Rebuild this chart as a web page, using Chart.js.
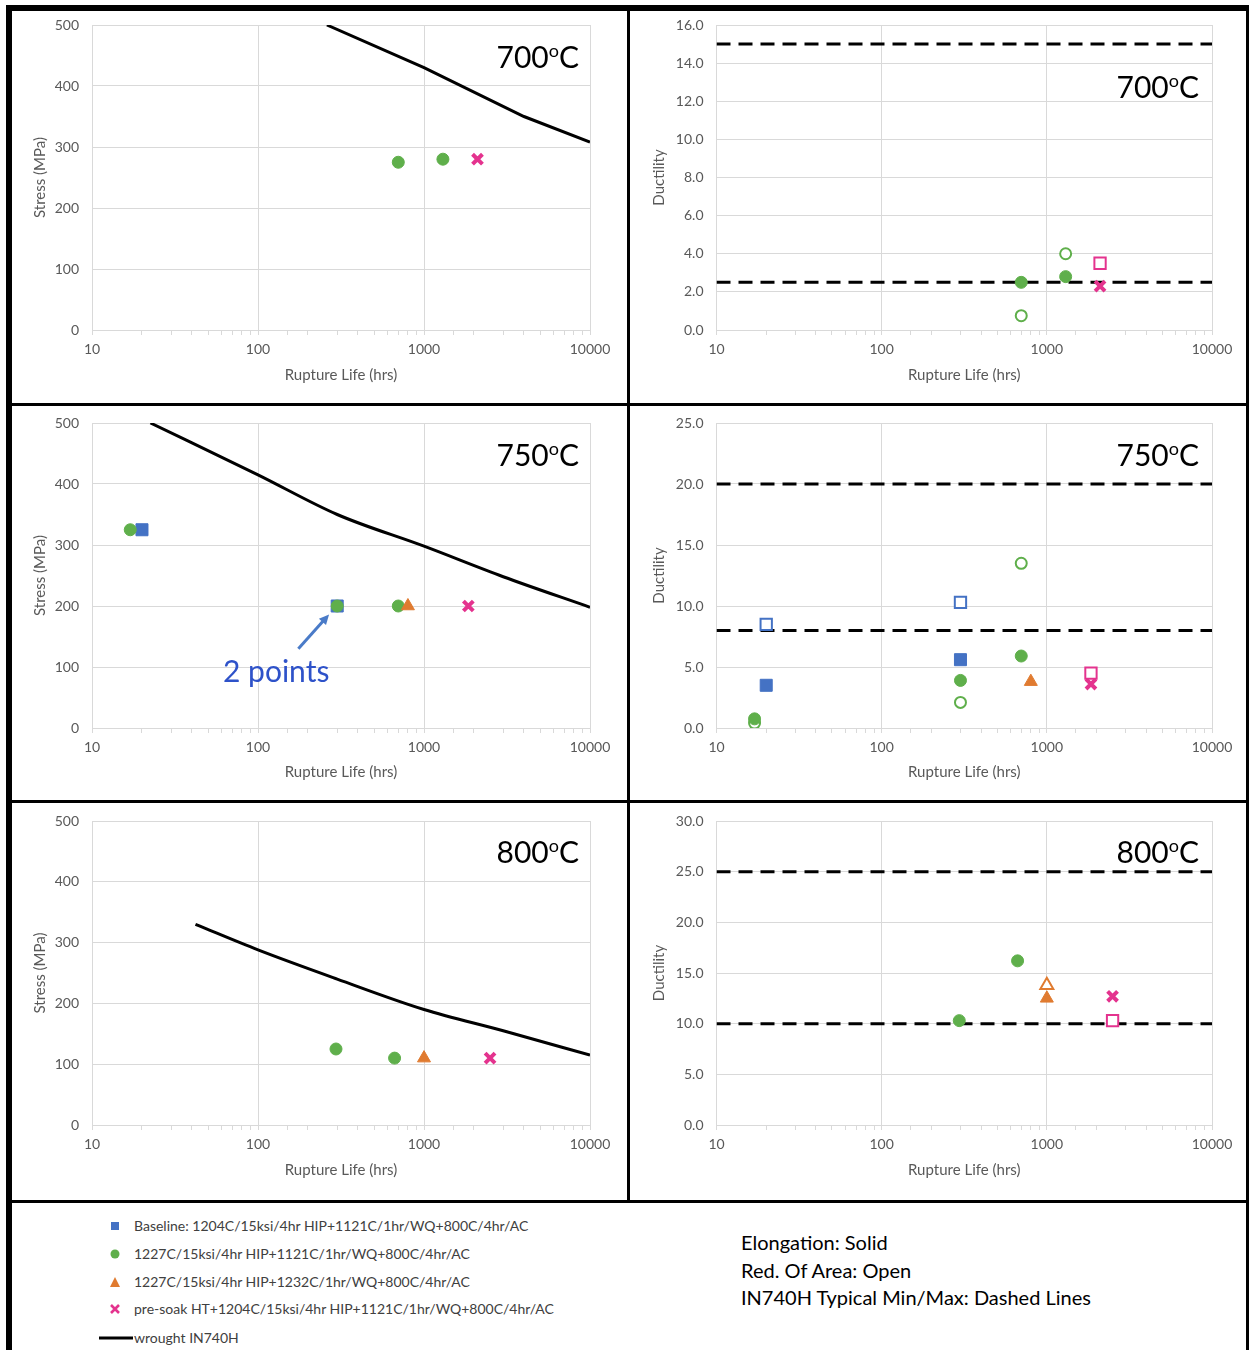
<!DOCTYPE html>
<html>
<head>
<meta charset="utf-8">
<script src="https://cdn.jsdelivr.net/npm/chart.js@4.4.1/dist/chart.umd.min.js"></script>
<style>
  html,body{margin:0;padding:0;background:#fff;}
  body{width:1249px;height:1350px;position:relative;overflow:hidden;font-family:Lato,"Open Sans",sans-serif;}
  .bar{position:absolute;background:#000;}
  .pane{position:absolute;}
  .temp{position:absolute;font-size:30px;line-height:31px;color:#000;text-align:right;width:120px;white-space:nowrap;}
  .temp .deg{font-size:18px;position:relative;top:-11px;}
  .note{position:absolute;font-size:30px;line-height:30px;color:#2E52C9;white-space:nowrap;}
  .leg{position:absolute;font-size:14px;line-height:18px;color:#404040;white-space:nowrap;}
  .legico{position:absolute;}
  .legico svg{display:block;}
  .info{position:absolute;font-size:20px;line-height:22px;color:#000;white-space:nowrap;}
</style>
</head>
<body>
<script>
// ---------------- DATA ----------------
const lifeTicks = [10, 100, 1000, 10000];
const stressTicks = [0, 100, 200, 300, 400, 500];
const ductMax700 = 16, ductStep700 = 2;
const ductMax750 = 25, ductStep750 = 5;
const ductMax800 = 30, ductStep800 = 5;

// 700 C
const life700Green = [700, 1300];
const stress700Green = [275, 280];
const elong700Green = [2.5, 2.8];
const roa700Green = [0.75, 4.0];
const life700Pink = [2100];
const stress700Pink = [280];
const elong700Pink = [2.3];
const roa700Pink = [3.5];
const life700Wrought = [260, 1000, 4000, 10000];
const stress700Wrought = [500, 430, 350, 308];
const typMinMax700 = [2.5, 15];

// 750 C
const life750Blue = [20, 300];
const stress750Blue = [325, 200];
const elong750Blue = [3.5, 5.6];
const roa750Blue = [8.5, 10.3];
const life750Green = [17, 300, 700];
const stress750Green = [325, 200, 200];
const elong750Green = [0.75, 3.9, 5.9];
const roa750Green = [0.4, 2.1, 13.5];
const life750Orange = [800];
const stress750Orange = [200];
const elong750Orange = [3.8];
const life750Pink = [1850];
const stress750Pink = [200];
const elong750Pink = [3.6];
const roa750Pink = [4.5];
const life750Wrought = [22.5, 100, 300, 1000, 3000, 10000];
const stress750Wrought = [500, 415, 350, 298, 248, 198];
const typMinMax750 = [8, 20];

// 800 C
const life800Green = [295, 665];
const stress800Green = [125, 110];
const elong800Green = [10.3, 16.2];
const life800Orange = [1000];
const stress800Orange = [110];
const elong800Orange = [12.5];
const roa800Orange = [13.8];
const life800Pink = [2500];
const stress800Pink = [110];
const elong800Pink = [12.7];
const roa800Pink = [10.3];
const life800Wrought = [42, 100, 300, 1000, 3000, 10000];
const stress800Wrought = [330, 288, 240, 190, 155, 115];
const typMinMax800 = [10, 25];

const legendLabels = [
  'Baseline: 1204C/15ksi/4hr HIP+1121C/1hr/WQ+800C/4hr/AC',
  '1227C/15ksi/4hr HIP+1121C/1hr/WQ+800C/4hr/AC',
  '1227C/15ksi/4hr HIP+1232C/1hr/WQ+800C/4hr/AC',
  'pre-soak HT+1204C/15ksi/4hr HIP+1121C/1hr/WQ+800C/4hr/AC',
  'wrought IN740H'
];
const infoLines = ['Elongation: Solid', 'Red. Of Area: Open', 'IN740H Typical Min/Max: Dashed Lines'];

// ---------------- STYLE ----------------
const BLUE = '#4472C4', GREEN = '#5FAF4B', ORANGE = '#E07B30', PINK = '#E4338E';
const GRID = '#D9D9D9', TXT = '#595959';
const FONT = 'Lato';

function pts(xs, ys) { return xs.map((x, i) => ({x: x, y: ys[i]})); }
function isMajor(v) { const l = Math.log10(v); return Math.abs(l - Math.round(l)) < 1e-9; }
function flat(vs) { return vs.map(v => [{x: lifeTicks[0], y: v}, {x: lifeTicks[lifeTicks.length - 1], y: v}]); }

function marker(color, style, radius, open, order, data) {
  return {
    data: data, pointStyle: style, pointRadius: radius, pointHoverRadius: radius,
    backgroundColor: open ? '#FFFFFF' : color, borderColor: color,
    borderWidth: open ? 2 : (style === 'crossRot' ? 4 : 1),
    showLine: false, order: order
  };
}
function wrought(data, smooth) {
  const d = {data: data, showLine: true, borderColor: '#000', borderWidth: 3, pointRadius: 0, order: 20, tension: 0};
  if (smooth) d.cubicInterpolationMode = 'monotone';
  return d;
}
function dashed(data) {
  return {data: data, showLine: true, borderColor: '#000', borderWidth: 3, borderDash: [14, 8], pointRadius: 0, order: 20};
}

const bars = [
  [6, 5, 1243, 6], [6, 5, 6, 1345], [1246, 5, 3, 1345],
  [12, 403, 1234, 3], [12, 800, 1234, 3], [12, 1200, 1234, 3],
  [627, 11, 3, 1189]
];
bars.forEach(b => {
  const d = document.createElement('div');
  d.className = 'bar';
  d.style.left = b[0] + 'px'; d.style.top = b[1] + 'px'; d.style.width = b[2] + 'px'; d.style.height = b[3] + 'px';
  document.body.appendChild(d);
});

const arrowPlugin = {
  id: 'arrow',
  afterDatasetsDraw(chart, args, opts) {
    if (!opts || !opts.from) return;
    const xs = chart.scales.x, ys = chart.scales.y, ctx = chart.ctx;
    const x0 = xs.getPixelForValue(opts.from[0]), y0 = ys.getPixelForValue(opts.from[1]);
    const x1 = xs.getPixelForValue(opts.to[0]), y1 = ys.getPixelForValue(opts.to[1]);
    const ang = Math.atan2(y1 - y0, x1 - x0), hl = 11;
    ctx.save();
    ctx.strokeStyle = '#4A7BC8'; ctx.fillStyle = '#4A7BC8'; ctx.lineWidth = 3;
    ctx.beginPath(); ctx.moveTo(x0, y0);
    ctx.lineTo(x1 - Math.cos(ang) * hl * 0.8, y1 - Math.sin(ang) * hl * 0.8); ctx.stroke();
    ctx.beginPath(); ctx.moveTo(x1, y1);
    ctx.lineTo(x1 - hl * Math.cos(ang - 0.45), y1 - hl * Math.sin(ang - 0.45));
    ctx.lineTo(x1 - hl * Math.cos(ang + 0.45), y1 - hl * Math.sin(ang + 0.45));
    ctx.closePath(); ctx.fill();
    ctx.restore();
  }
};

function makePanel(p) {
  const wrap = document.createElement('div');
  wrap.className = 'pane';
  wrap.style.left = p.left + 'px'; wrap.style.top = p.top + 'px';
  wrap.style.width = p.w + 'px'; wrap.style.height = p.h + 'px';
  const cv = document.createElement('canvas');
  cv.width = p.w; cv.height = p.h;
  cv.style.width = p.w + 'px'; cv.style.height = p.h + 'px';
  wrap.appendChild(cv);
  document.body.appendChild(wrap);

  new Chart(cv.getContext('2d'), {
    type: 'scatter',
    data: {datasets: p.datasets},
    plugins: [arrowPlugin],
    options: {
      responsive: false, animation: false, devicePixelRatio: 1,
      layout: {padding: {top: p.padTop, right: p.padRight, left: 0, bottom: 0}},
      plugins: {legend: {display: false}, tooltip: {enabled: false}, arrow: p.arrow || {}},
      scales: {
        x: {
          type: 'logarithmic', min: lifeTicks[0], max: lifeTicks[lifeTicks.length - 1], position: 'bottom',
          afterFit(s) { s.height = p.xH; s.paddingLeft = 0; s.paddingRight = 0; },
          grid: {
            color: c => (c.tick && isMajor(c.tick.value)) ? GRID : 'rgba(0,0,0,0)',
            tickColor: GRID, tickLength: 5, drawTicks: true, lineWidth: 1
          },
          border: {color: GRID},
          ticks: {
            autoSkip: false, maxRotation: 0, minRotation: 0, padding: 6, color: TXT,
            font: {family: FONT, size: 14},
            callback: v => isMajor(v) ? String(v) : ''
          },
          title: {display: true, text: 'Rupture Life (hrs)', color: TXT, font: {family: FONT, size: 15}, padding: {top: 0, bottom: p.xTitlePad}}
        },
        y: {
          min: 0, max: p.yMax,
          afterFit(s) { s.width = p.yW; s.paddingTop = 0; s.paddingBottom = 0; },
          grid: {color: GRID, drawTicks: false, lineWidth: 1},
          border: {display: false},
          ticks: {
            stepSize: p.yStep, padding: 13, color: TXT, font: {family: FONT, size: 14},
            callback: v => p.decimals ? Number(v).toFixed(1) : String(v)
          },
          title: {display: true, text: p.yTitle, color: TXT, font: {family: FONT, size: 15}, padding: {top: p.yTitlePad, bottom: 0}}
        }
      }
    }
  });
}

const LEFT = {left: 12, w: 615, yW: 80, padRight: 37, yTitlePad: 19};
const RIGHT = {left: 630, w: 616, yW: 86.5, padRight: 34, yTitlePad: 20};
const ROW1 = {top: 11, h: 392, padTop: 14, xH: 73, xTitlePad: 19};
const ROW2 = {top: 406, h: 394, padTop: 17, xH: 72, xTitlePad: 19};
const ROW3 = {top: 803, h: 397, padTop: 18, xH: 75, xTitlePad: 21};

// 700 stress
makePanel(Object.assign({}, LEFT, ROW1, {
  yMax: stressTicks[stressTicks.length - 1], yStep: stressTicks[1] - stressTicks[0], yTitle: 'Stress (MPa)', decimals: false,
  datasets: [
    marker(GREEN, 'circle', 6, false, 3, pts(life700Green, stress700Green)),
    marker(PINK, 'crossRot', 7, false, 1, pts(life700Pink, stress700Pink)),
    wrought(pts(life700Wrought, stress700Wrought), false)
  ]
}));
// 700 ductility
makePanel(Object.assign({}, RIGHT, ROW1, {
  yMax: ductMax700, yStep: ductStep700, yTitle: 'Ductility', decimals: true,
  datasets: [
    marker(GREEN, 'circle', 6, false, 3, pts(life700Green, elong700Green)),
    marker(GREEN, 'circle', 5.5, true, 3, pts(life700Green, roa700Green)),
    marker(PINK, 'rect', 8, true, 1, pts(life700Pink, roa700Pink)),
    marker(PINK, 'crossRot', 7, false, 1, pts(life700Pink, elong700Pink))
  ].concat(flat(typMinMax700).map(dashed))
}));
// 750 stress
makePanel(Object.assign({}, LEFT, ROW2, {
  yMax: stressTicks[stressTicks.length - 1], yStep: stressTicks[1] - stressTicks[0], yTitle: 'Stress (MPa)', decimals: false,
  arrow: {from: [175, 130], to: [268, 186]},
  datasets: [
    marker(BLUE, 'rect', 8.5, false, 4, pts(life750Blue, stress750Blue)),
    marker(GREEN, 'circle', 6, false, 3, pts(life750Green, stress750Green)),
    marker(ORANGE, 'triangle', 7.5, false, 2, pts(life750Orange, stress750Orange)),
    marker(PINK, 'crossRot', 7, false, 1, pts(life750Pink, stress750Pink)),
    wrought(pts(life750Wrought, stress750Wrought), true)
  ]
}));
// 750 ductility
makePanel(Object.assign({}, RIGHT, ROW2, {
  yMax: ductMax750, yStep: ductStep750, yTitle: 'Ductility', decimals: true,
  datasets: [
    marker(BLUE, 'rect', 8.5, false, 4, pts(life750Blue, elong750Blue)),
    marker(BLUE, 'rect', 8, true, 4, pts(life750Blue, roa750Blue)),
    marker(GREEN, 'circle', 6, false, 3, pts(life750Green, elong750Green)),
    marker(GREEN, 'circle', 5.5, true, 3, pts(life750Green, roa750Green)),
    marker(ORANGE, 'triangle', 7.5, false, 2, pts(life750Orange, elong750Orange)),
    marker(PINK, 'rect', 8, true, 1, pts(life750Pink, roa750Pink)),
    marker(PINK, 'crossRot', 7, false, 1, pts(life750Pink, elong750Pink))
  ].concat(flat(typMinMax750).map(dashed))
}));
// 800 stress
makePanel(Object.assign({}, LEFT, ROW3, {
  yMax: stressTicks[stressTicks.length - 1], yStep: stressTicks[1] - stressTicks[0], yTitle: 'Stress (MPa)', decimals: false,
  datasets: [
    marker(GREEN, 'circle', 6, false, 3, pts(life800Green, stress800Green)),
    marker(ORANGE, 'triangle', 7.5, false, 2, pts(life800Orange, stress800Orange)),
    marker(PINK, 'crossRot', 7, false, 1, pts(life800Pink, stress800Pink)),
    wrought(pts(life800Wrought, stress800Wrought), true)
  ]
}));
// 800 ductility
makePanel(Object.assign({}, RIGHT, ROW3, {
  yMax: ductMax800, yStep: ductStep800, yTitle: 'Ductility', decimals: true,
  datasets: [
    marker(GREEN, 'circle', 6, false, 3, pts(life800Green, elong800Green)),
    marker(ORANGE, 'triangle', 7.5, true, 2, pts(life800Orange, roa800Orange)),
    marker(ORANGE, 'triangle', 7.5, false, 2, pts(life800Orange, elong800Orange)),
    marker(PINK, 'rect', 8, true, 1, pts(life800Pink, roa800Pink)),
    marker(PINK, 'crossRot', 7, false, 1, pts(life800Pink, elong800Pink))
  ].concat(flat(typMinMax800).map(dashed))
}));

// ---------------- TEXT OVERLAYS ----------------
function addDiv(cls, html, left, top, extra) {
  const d = document.createElement('div');
  d.className = cls; d.innerHTML = html;
  d.style.left = left + 'px'; d.style.top = top + 'px';
  if (extra) Object.assign(d.style, extra);
  document.body.appendChild(d);
  return d;
}
const temps = [['700', 459, 41], ['700', 1079, 71], ['750', 459, 439], ['750', 1079, 439], ['800', 459, 836], ['800', 1079, 836]];
temps.forEach(t => addDiv('temp', t[0] + '<span class="deg">o</span>C', t[1], t[2]));
addDiv('note', '2 points', 223, 655);

// legend
const legY = [1226, 1254, 1282, 1309, 1338];
const icons = [
  '<svg width="12" height="12"><rect x="2" y="2" width="8" height="8" fill="' + BLUE + '"/></svg>',
  '<svg width="12" height="12"><circle cx="6" cy="6" r="4.5" fill="' + GREEN + '"/></svg>',
  '<svg width="12" height="12"><polygon points="6,1 11,11 1,11" fill="' + ORANGE + '"/></svg>',
  '<svg width="12" height="12"><path d="M2,2 L10,10 M10,2 L2,10" stroke="' + PINK + '" stroke-width="2.6"/></svg>',
  '<svg width="34" height="6"><line x1="0" y1="3" x2="34" y2="3" stroke="#000" stroke-width="3"/></svg>'
];
legendLabels.forEach((lab, i) => {
  if (i < 4) addDiv('legico', icons[i], 109, legY[i] - 6);
  else addDiv('legico', icons[i], 99, legY[i] - 3);
  addDiv('leg', lab, 134, legY[i] - 9);
});
const infoY = [1242, 1270, 1297];
infoLines.forEach((t, i) => addDiv('info', t, 741, infoY[i] - 11));
</script>
</body>
</html>
